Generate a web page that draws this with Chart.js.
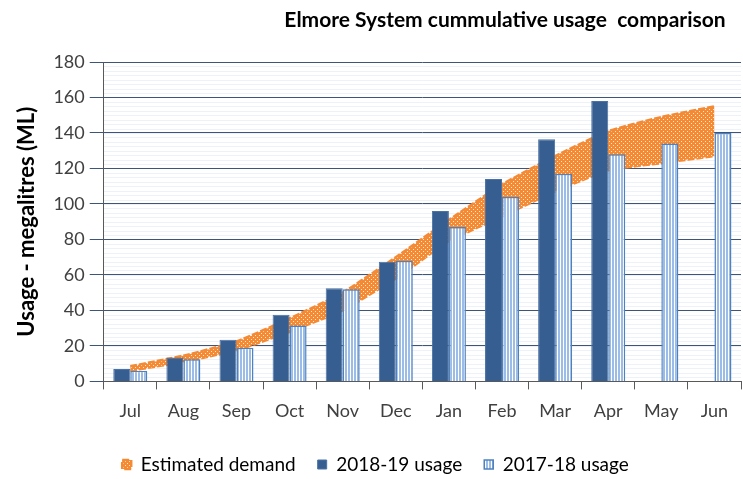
<!DOCTYPE html>
<html>
<head>
<meta charset="utf-8">
<script src="https://cdn.jsdelivr.net/npm/chart.js@4.4.1/dist/chart.umd.min.js"></script>
<style>
  html, body { margin: 0; padding: 0; background: #fff; }
  #wrap { width: 743px; height: 479px; }
</style>
</head>
<body>
<div id="wrap"><canvas id="chart" width="743" height="479"></canvas></div>
<script>
// data
const months = ["Jul", "Aug", "Sep", "Oct", "Nov", "Dec", "Jan", "Feb", "Mar", "Apr", "May", "Jun"];
const usage1819 = [7, 13.5, 23.5, 37.5, 52.5, 67.5, 96, 114, 136.5, 158, null, null];
const usage1718 = [6, 12.5, 19, 31.5, 52, 68, 87, 104, 117, 128, 134, 140];
const demandLow = [6, 11, 17.5, 28, 40, 58, 79, 93, 107, 119, 123, 127];
const demandHigh = [8.5, 14.5, 22.5, 35.5, 50, 70, 91, 111, 127, 141, 149, 155];
const yTicks = [0, 20, 40, 60, 80, 100, 120, 140, 160, 180];

const FONT = "Lato";
const ORANGE = "#F58A34";

// orange dotted fill for the demand band
function dotPattern() {
  const c = document.createElement("canvas");
  c.width = 4; c.height = 4;
  const g = c.getContext("2d");
  g.fillStyle = ORANGE;
  g.fillRect(0, 0, 4, 4);
  g.fillStyle = "rgba(255,235,215,0.95)";
  g.fillRect(1, 1, 1, 1);
  g.fillRect(3, 3, 1, 1);
  return g.createPattern(c, "repeat");
}

// vertical stripes for 2017-18 bars
function stripePattern() {
  const c = document.createElement("canvas");
  c.width = 3; c.height = 3;
  const g = c.getContext("2d");
  g.fillStyle = "#ffffff";
  g.fillRect(0, 0, 3, 3);
  g.fillStyle = "#9BBCE6";
  g.fillRect(0, 0, 2, 3);
  return g.createPattern(c, "repeat");
}

// faint horizontal hatch behind the plot + custom title
const backdrop = {
  id: "backdrop",
  beforeDraw(chart) {
    const { ctx, chartArea, scales } = chart;
    ctx.save();
    ctx.strokeStyle = "#EDF1F8";
    ctx.lineWidth = 1;
    for (let v = 0; v <= 180; v += 2.5) {
      const y = Math.round(scales.y.getPixelForValue(v)) + 0.5;
      ctx.beginPath();
      ctx.moveTo(chartArea.left, y);
      ctx.lineTo(chartArea.right, y);
      ctx.stroke();
    }
    ctx.restore();
  },
  afterDraw(chart) {
    const ctx = chart.ctx;
    ctx.save();
    ctx.fillStyle = "#000";
    ctx.font = "bold 21px " + FONT;
    ctx.textAlign = "center";
    ctx.textBaseline = "middle";
    ctx.fillText("Elmore System cummulative usage  comparison", 505, 20);
    ctx.restore();
  }
};

const ctx = document.getElementById("chart").getContext("2d");
const chart = new Chart(ctx, {
  type: "bar",
  data: {
    labels: months,
    datasets: [
      {
        type: "line",
        label: "Estimated demand",
        data: demandHigh,
        borderColor: ORANGE,
        borderWidth: 2.5,
        borderDash: [7, 2],
        backgroundColor: dotPattern(),
        pointRadius: 0,
        tension: 0.15,
        fill: "+1",
        order: 3
      },
      {
        type: "line",
        label: "low",
        data: demandLow,
        borderColor: ORANGE,
        borderWidth: 2.5,
        borderDash: [7, 2],
        pointRadius: 0,
        tension: 0.15,
        fill: false,
        order: 4
      },
      {
        label: "2018-19 usage",
        data: usage1819,
        backgroundColor: "#365E91",
        borderColor: "#4A72A5",
        borderWidth: 1,
        order: 1
      },
      {
        label: "2017-18 usage",
        data: usage1718,
        backgroundColor: stripePattern(),
        borderColor: "#4F81BD",
        borderWidth: 1.5,
        order: 1
      }
    ]
  },
  options: {
    responsive: false,
    animation: false,
    layout: { padding: { top: 62, right: 2, left: 10, bottom: -5 } },
    datasets: {
      bar: { categoryPercentage: 0.64, barPercentage: 1.0 }
    },
    scales: {
      x: {
        grid: {
          display: true,
          drawOnChartArea: false,
          offset: true,
          color: "#595959",
          tickLength: 8
        },
        border: { color: "#595959" },
        ticks: { color: "#404040", font: { family: FONT, size: 18 }, padding: 11 }
      },
      y: {
        min: 0,
        max: 180,
        afterBuildTicks(axis) {
          axis.ticks = yTicks.map(v => ({ value: v }));
        },
        grid: {
          color: "#3E5478",
          lineWidth: 1,
          tickLength: 14
        },
        border: { color: "#595959" },
        ticks: { color: "#404040", font: { family: FONT, size: 18 }, padding: 5 },
        title: {
          display: true,
          text: "Usage - megalitres (ML)",
          color: "#000",
          font: { family: FONT, size: 22, weight: "bold" },
          padding: { bottom: 8 }
        }
      }
    },
    plugins: {
      title: { display: false },
      tooltip: { enabled: false },
      legend: {
        position: "bottom",
        labels: {
          color: "#000",
          font: { family: FONT, size: 19 },
          boxWidth: 9,
          boxHeight: 9,
          padding: 22,
          filter: item => item.datasetIndex !== 1,
          sort: (a, b) => a.datasetIndex - b.datasetIndex
        }
      }
    }
  },
  plugins: [backdrop]
});
</script>
</body>
</html>
